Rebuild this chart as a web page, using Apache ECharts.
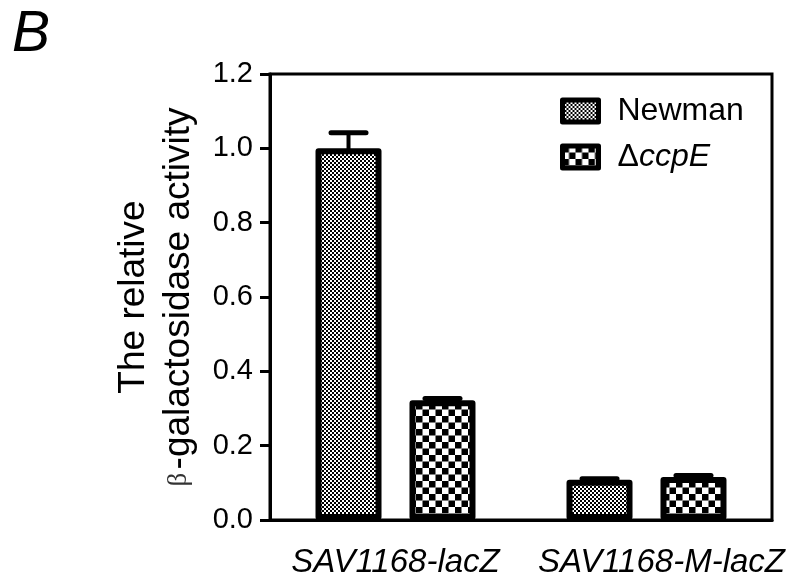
<!DOCTYPE html>
<html>
<head>
<meta charset="utf-8">
<script src="https://cdn.jsdelivr.net/npm/echarts@6/dist/echarts.min.js"></script>
<style>
html,body{margin:0;padding:0;background:#fff;}
#chart{width:791px;height:579px;}
</style>
</head>
<body>
<div id="chart"></div>
<script>
// ---- data ----
const categories = ['SAV1168-lacZ', 'SAV1168-M-lacZ'];
const seriesNames = ['Newman', 'ΔccpE'];
const newmanValues = [1.0, 0.108];
const ccpEValues = [0.322, 0.116];
const newmanErrors = [0.042, 0.003];
const ccpEErrors = [0.005, 0.004];
const yTickValues = [0, 0.2, 0.4, 0.6, 0.8, 1.0, 1.2];

// ---- patterns ----
function makeChecker(cell) {
  const size = Math.round(cell * 2);
  const c = document.createElement('canvas');
  c.width = size; c.height = size;
  const ctx = c.getContext('2d');
  ctx.fillStyle = '#fff';
  ctx.fillRect(0, 0, size, size);
  ctx.fillStyle = '#000';
  ctx.fillRect(0, 0, cell, cell);
  ctx.fillRect(cell, cell, cell, cell);
  return c;
}
const patNewman = { image: makeChecker(2), repeat: 'repeat' };
const patCcpE = { image: makeChecker(6.5), repeat: 'repeat' };

const FONT = 'Liberation Sans';
const BAR_W = 66;
const BAR_GAP = 0.424;
const OFFSET = BAR_W * (1 + BAR_GAP) / 2;

const errData = [];
newmanValues.forEach((v, i) => errData.push([i, v, newmanErrors[i], -1]));
ccpEValues.forEach((v, i) => errData.push([i, v, ccpEErrors[i], 1]));

const chart = echarts.init(document.getElementById('chart'), null, { renderer: 'canvas' });
chart.setOption({
  animation: false,
  backgroundColor: '#fff',
  title: {
    text: 'B', left: 7, top: 2,
    textStyle: { fontFamily: FONT, fontSize: 57, fontStyle: 'italic', fontWeight: 'normal', color: '#000' }
  },
  grid: { left: 270, right: 19, top: 74, bottom: 56, show: true, borderColor: '#000', borderWidth: 3, containLabel: false },
  legend: {
    orient: 'vertical', left: 560, top: 95,
    itemWidth: 36, itemHeight: 22, itemGap: 14, padding: 0,
    data: [
      { name: seriesNames[0], icon: 'rect', itemStyle: { color: patNewman, borderColor: '#000', borderWidth: 5 } },
      { name: seriesNames[1], icon: 'rect', itemStyle: { color: patCcpE, borderColor: '#000', borderWidth: 5 } }
    ],
    formatter: function (name) {
      if (name === 'ΔccpE') return '{d|Δ}{i|ccpE}';
      return '{n|' + name + '}';
    },
    textStyle: {
      fontFamily: FONT, fontSize: 32, color: '#000', lineHeight: 27,
      rich: {
        n: { fontFamily: FONT, fontSize: 32, color: '#000', padding: [0, 0, 0, 14] },
        d: { fontFamily: FONT, fontSize: 32, color: '#000', padding: [0, 0, 0, 14] },
        i: { fontFamily: FONT, fontSize: 32, color: '#000', fontStyle: 'italic' }
      }
    }
  },
  xAxis: {
    type: 'category',
    data: categories,
    axisLine: { lineStyle: { color: '#000', width: 3 } },
    axisTick: { alignWithLabel: true, length: 9, lineStyle: { color: '#000', width: 3 } },
    axisLabel: {
      margin: 26,
      formatter: function (v, i) { return i === 1 ? '{s|' + v + '}' : '{f|' + v + '}'; },
      rich: {
        f: { fontFamily: FONT, fontSize: 33, fontStyle: 'italic', color: '#000' },
        s: { fontFamily: FONT, fontSize: 33, fontStyle: 'italic', color: '#000', padding: [0, 0, 0, 30] }
      }
    },
    splitLine: { show: false }
  },
  yAxis: {
    type: 'value',
    min: 0, max: 1.2, interval: 0.2,
    axisLine: { show: true, lineStyle: { color: '#000', width: 3 } },
    axisTick: { show: true, length: 10, lineStyle: { color: '#000', width: 3 } },
    axisLabel: {
      margin: 17, fontFamily: FONT, fontSize: 29, color: '#000',
      formatter: function (v) { return yTickValues.some(t => Math.abs(t - v) < 1e-9) ? v.toFixed(1) : ''; }
    },
    splitLine: { show: false },
    name: '{a|The relative}\n{b|β} {c|-galactosidase activity}',
    nameLocation: 'middle',
    nameRotate: 90,
    nameGap: 66,
    nameTextStyle: {
      lineHeight: 45,
      rich: {
        a: { fontFamily: FONT, fontSize: 37, color: '#000', lineHeight: 45 },
        b: { fontFamily: 'Liberation Serif', fontSize: 27, color: '#333', lineHeight: 45 },
        c: { fontFamily: FONT, fontSize: 37, color: '#000', lineHeight: 45 }
      }
    }
  },
  series: [
    {
      name: seriesNames[0], type: 'bar', data: newmanValues,
      barWidth: BAR_W, barGap: (BAR_GAP * 100) + '%',
      itemStyle: { color: patNewman, borderColor: '#000', borderWidth: 6, borderJoin: 'round' }
    },
    {
      name: seriesNames[1], type: 'bar', data: ccpEValues,
      barWidth: BAR_W, barGap: (BAR_GAP * 100) + '%',
      itemStyle: { color: patCcpE, borderColor: '#000', borderWidth: 6, borderJoin: 'round' }
    },
    {
      type: 'custom',
      data: errData,
      z: 5,
      renderItem: function (params, api) {
        const idx = api.value(0), v = api.value(1), e = api.value(2), side = api.value(3);
        const base = api.coord([idx, v]);
        const top = api.coord([idx, v + e]);
        const x = base[0] + side * OFFSET;
        return {
          type: 'group',
          children: [
            { type: 'line', shape: { x1: x, y1: base[1] + 3, x2: x, y2: top[1] }, style: { stroke: '#000', lineWidth: 4 } },
            { type: 'line', shape: { x1: x - 17.5, y1: top[1], x2: x + 17.5, y2: top[1] }, style: { stroke: '#000', lineWidth: 5, lineCap: 'round' } }
          ]
        };
      }
    }
  ]
});
</script>
</body>
</html>
